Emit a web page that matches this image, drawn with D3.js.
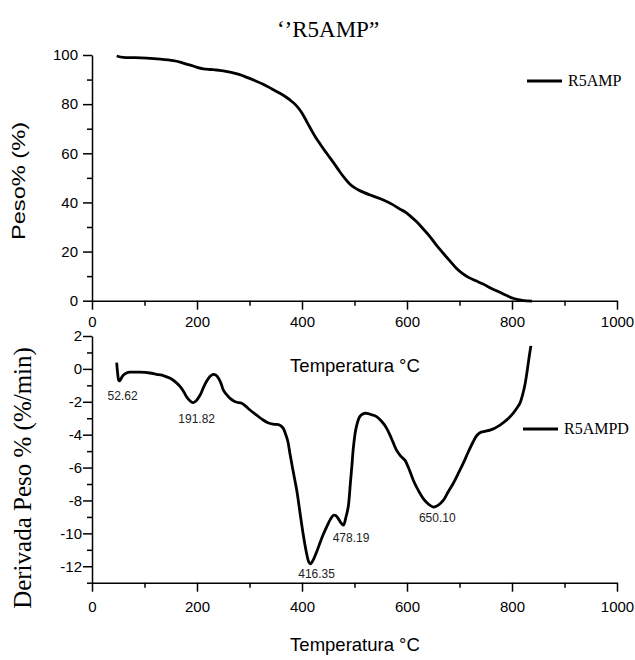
<!DOCTYPE html>
<html><head><meta charset="utf-8">
<script src="https://cdn.jsdelivr.net/npm/d3@7"></script>
<style>body{margin:0;background:#fff}svg{display:block}</style>
</head><body>
<svg id="c" width="635" height="660"></svg>
<script>
// ---- data ----
const tgaTemp   = [47,60,80,104,130,155,168,180,187,200,212,225,237,250,263,280,295,310,326,342,358,370,377,387,396,403,409,417,425,436,447,460,472,482,491,500,510,530,555,572,587,596,607,618,631,644,656,669,682,694,706,717,730,745,760,777,790,802,812,822,838];
const tgaWeight = [99.6,99.0,98.9,98.7,98.3,97.7,97.1,96.3,95.9,95.0,94.4,94.1,93.9,93.5,93.0,92.1,90.9,89.6,88.1,86.3,84.4,82.8,81.7,79.9,77.6,75.3,72.9,69.8,66.8,63.3,60.0,56.2,52.5,49.7,47.5,46.0,44.8,43.0,41.0,39.2,37.2,36.2,34.3,32.2,29.2,26.0,22.6,19.3,16.1,13.2,11.0,9.5,8.2,6.8,5.1,3.4,2.1,1.0,0.4,0.0,-0.2];

const dtgTemp  = [47,49,51,53,56,60,66,72,91,110,123,137,149,160,168,175,180,187,192,198,206,212,218,225,231,236,241,246,250,256,263,270,276,285,292,301,313,326,335,345,358,364,368,373,377,383,390,396,402,408,413,416,420,427,434,440,447,454,460,464,469,474,479,483,488,492,495,498,503,510,517,523,532,542,552,561,570,580,588,596,604,612,620,631,640,650,659,669,678,688,697,707,716,726,733,739,748,758,766,774,782,790,802,810,815,820,825,829,833,836];
const dtgDeriv = [0.38,-0.3,-0.7,-0.72,-0.55,-0.37,-0.25,-0.2,-0.2,-0.25,-0.33,-0.42,-0.57,-0.82,-1.08,-1.4,-1.69,-1.95,-2.05,-1.95,-1.59,-1.15,-0.77,-0.45,-0.33,-0.38,-0.57,-0.9,-1.28,-1.55,-1.79,-1.95,-2.03,-2.09,-2.25,-2.5,-2.8,-3.11,-3.27,-3.36,-3.42,-3.6,-3.9,-4.4,-5.14,-6.2,-7.38,-8.7,-10.0,-11.1,-11.75,-11.85,-11.7,-11.2,-10.6,-10.1,-9.6,-9.15,-8.9,-8.92,-9.1,-9.35,-9.5,-9.1,-8.4,-7.0,-5.9,-4.74,-3.6,-2.9,-2.72,-2.7,-2.78,-2.9,-3.2,-3.6,-4.2,-4.94,-5.3,-5.55,-6.1,-6.77,-7.3,-7.89,-8.2,-8.4,-8.3,-8.0,-7.5,-6.97,-6.4,-5.75,-5.1,-4.43,-4.05,-3.88,-3.8,-3.72,-3.62,-3.48,-3.3,-3.1,-2.7,-2.35,-2.1,-1.6,-0.9,-0.1,0.8,1.4];

const peakTemp   = [52.62,191.82,416.35,478.19,650.10];
const peakDeriv  = [-0.72,-2.05,-11.85,-9.5,-8.4];
const peakLabels = ["52.62","191.82","416.35","478.19","650.10"];

const xMajor = [0,200,400,600,800,1000];
const xMinor = [100,300,500,700,900];
const yTopMajor = [0,20,40,60,80,100];
const yTopMinor = [10,30,50,70,90];
const yBotMajor = [2,0,-2,-4,-6,-8,-10,-12];
const yBotMinor = [1,-1,-3,-5,-7,-9,-11,-13];

const titleText = "\u2018\u2019R5AMP\u201D";
const seriesTop = "R5AMP";
const seriesBot = "R5AMPD";
const xTitle = "Temperatura \u00B0C";
const yTopTitle = "Peso% (%)";
const yBotTitle = "Derivada Peso %  (%/min)";

// ---- drawing ----
const svg = d3.select("#c");
const SANS = "'Liberation Sans', Arial, sans-serif";
const SERIF = "'Liberation Serif', 'Times New Roman', serif";

const x = d3.scaleLinear().domain([0,1000]).range([92,617]);
const yTop = d3.scaleLinear().domain([0,100]).range([300.7,55]);
const yBot = d3.scaleLinear().domain([-13,2]).range([582.7,336]);

function styleAxis(g){
  g.selectAll("path,line").attr("stroke","#000").attr("stroke-width",1.5);
  g.selectAll("text").attr("font-family",SANS).attr("font-size",15).attr("fill","#000");
}
function xAxes(yPos, pad){
  svg.append("g").attr("transform",`translate(0,${yPos})`)
    .call(d3.axisBottom(x).tickValues(xMajor).tickSize(9).tickSizeOuter(0).tickPadding(pad).tickFormat(d3.format("d")))
    .call(styleAxis);
  svg.append("g").attr("transform",`translate(0,${yPos})`)
    .call(d3.axisBottom(x).tickValues(xMinor).tickSize(5).tickFormat(""))
    .call(g=>g.select(".domain").remove()).call(styleAxis);
}
function yAxes(scale, major, minor, pad){
  svg.append("g").attr("transform",`translate(92,0)`)
    .call(d3.axisLeft(scale).tickValues(major).tickSize(9).tickSizeOuter(0).tickPadding(pad).tickFormat(d3.format("d")))
    .call(styleAxis);
  svg.append("g").attr("transform",`translate(92,0)`)
    .call(d3.axisLeft(scale).tickValues(minor).tickSize(5).tickFormat(""))
    .call(g=>g.select(".domain").remove()).call(styleAxis);
}
xAxes(300.7, 7);
yAxes(yTop, yTopMajor, yTopMinor, 5);
xAxes(582.7, 10);
yAxes(yBot, yBotMajor, yBotMinor, 1);
svg.selectAll("text").filter(function(){return this.textContent.startsWith("\u2212");})
  .text(function(){return "-"+this.textContent.slice(1);});

// curves
const lineTop = d3.line().x(d=>x(d[0])).y(d=>yTop(d[1])).curve(d3.curveCatmullRom.alpha(0.5));
svg.append("path").datum(d3.zip(tgaTemp,tgaWeight)).attr("d",lineTop)
  .attr("fill","none").attr("stroke","#000").attr("stroke-width",2.8).attr("stroke-linejoin","round");
const lineBot = d3.line().x(d=>x(d[0])).y(d=>yBot(d[1])).curve(d3.curveCatmullRom.alpha(0.5));
svg.append("path").datum(d3.zip(dtgTemp,dtgDeriv)).attr("d",lineBot)
  .attr("fill","none").attr("stroke","#000").attr("stroke-width",2.8).attr("stroke-linejoin","round");

// peak labels
const peakOff = [[3,19],[4,20],[6,14],[8,17],[4,15]];
svg.append("g").selectAll("text").data(peakTemp).join("text")
  .attr("x",(d,i)=>x(d)+peakOff[i][0]).attr("y",(d,i)=>yBot(peakDeriv[i])+peakOff[i][1])
  .attr("text-anchor","middle").attr("font-family",SANS).attr("font-size",12).attr("fill","#222")
  .text((d,i)=>peakLabels[i]);

// titles
svg.append("text").attr("x",328).attr("y",37).attr("text-anchor","middle")
  .attr("font-family",SERIF).attr("font-size",23).text(titleText);
svg.append("text").attr("x",355).attr("y",372).attr("text-anchor","middle")
  .attr("font-family",SANS).attr("font-size",18.5).text(xTitle);
svg.append("text").attr("x",355).attr("y",651).attr("text-anchor","middle")
  .attr("font-family",SANS).attr("font-size",18.5).text(xTitle);
svg.append("text").attr("transform","translate(25,181) rotate(-90)").attr("text-anchor","middle")
  .attr("font-family",SANS).attr("font-size",18).attr("textLength",118).attr("lengthAdjust","spacingAndGlyphs")
  .text(yTopTitle);
svg.append("text").attr("transform","translate(31,478) rotate(-90)").attr("text-anchor","middle")
  .attr("font-family",SERIF).attr("font-size",25).text(yBotTitle);

// legends
function legend(lx, ly, label){
  svg.append("line").attr("x1",lx).attr("x2",lx+35).attr("y1",ly).attr("y2",ly)
    .attr("stroke","#000").attr("stroke-width",3);
  svg.append("text").attr("x",lx+41).attr("y",ly+5).attr("font-family",SERIF).attr("font-size",16).text(label);
}
legend(527, 81, seriesTop);
legend(523, 429, seriesBot);
</script>
</body></html>
